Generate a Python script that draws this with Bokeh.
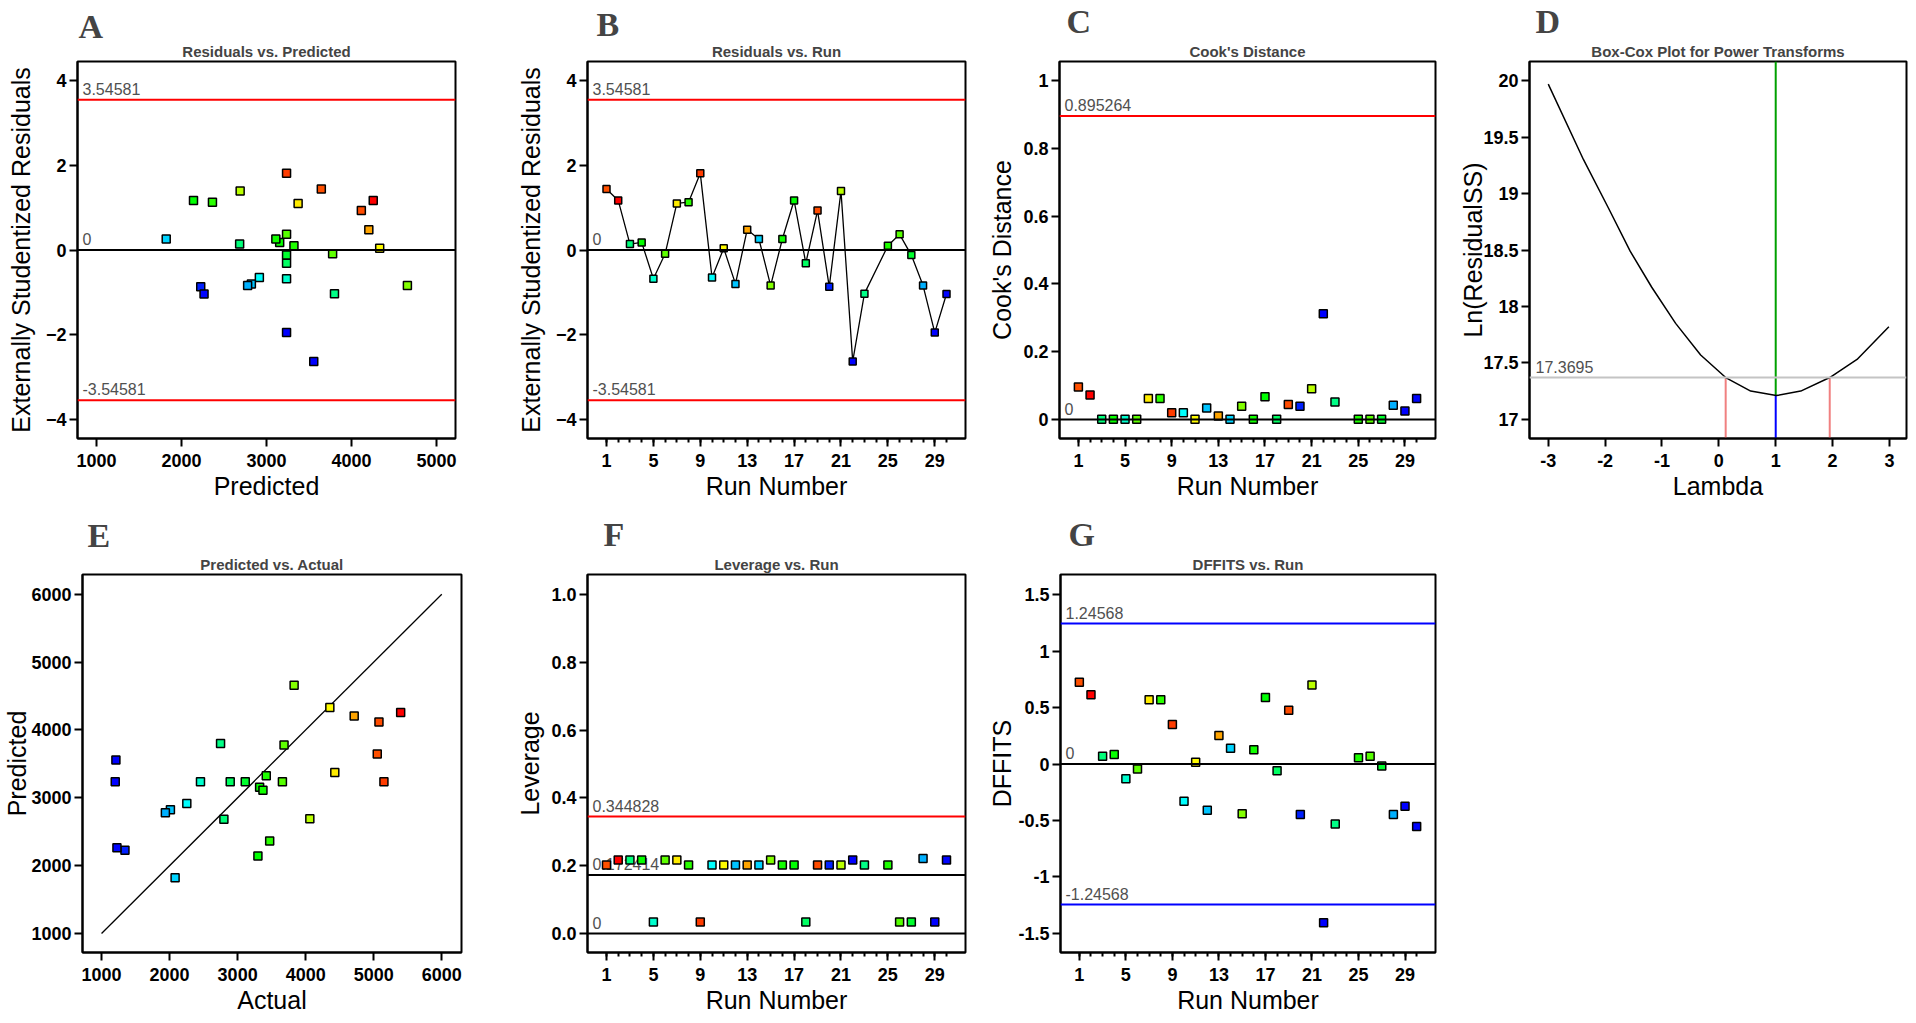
from bokeh.plotting import figure
from bokeh.models import (Range1d, FixedTicker, Label, Span, ColumnDataSource,
                          CustomJSTickFormatter, Title)
from bokeh.layouts import row, column
from bokeh.transform import linear_cmap
from bokeh.embed import file_html
from bokeh.resources import INLINE

# ---------------- data (run 24 not shown in the diagnostics) ----------------
runs = [1, 2, 3, 4, 5, 6, 7, 8, 9, 10, 11, 12, 13, 14, 15, 16, 17, 18, 19, 20,
        21, 22, 23, 25, 26, 27, 28, 29, 30]
actual = [5052, 5396, 2798, 3323, 2454, 3682, 4428, 3471, 5150, 2253, 4355, 2012,
          4713, 2081, 3830, 3372, 3298, 2891, 5077, 1344, 4061, 1211, 2749, 3421,
          3658, 3112, 1938, 1201, 1226]
predicted = [3645, 4256, 2684, 3155, 3236, 3778, 3372, 2364, 3236, 2916, 4332, 2822,
             4204, 1820, 4658, 3110, 2141, 3236, 4116, 2226, 2690, 3556, 3800, 3323,
             3236, 3236, 2778, 3236, 2265]
ext_resid = [1.44, 1.17, 0.14, 0.18, -0.68, -0.09, 1.10, 1.13, 1.81, -0.65, 0.04, -0.80,
             0.48, 0.26, -0.84, 0.26, 1.17, -0.31, 0.93, -0.87, 1.39, -2.63, -1.03, 0.10,
             0.37, -0.12, -0.84, -1.95, -1.04]
cooks_d = [0.096, 0.072, 0.001, 0.001, 0.001, 0.001, 0.062, 0.062, 0.020, 0.020, 0.001, 0.034,
           0.010, 0.001, 0.039, 0.001, 0.067, 0.001, 0.044, 0.039, 0.091, 0.312, 0.052, 0.001,
           0.001, 0.001, 0.042, 0.025, 0.062]
leverage = [0.202, 0.217, 0.217, 0.217, 0.034, 0.217, 0.217, 0.202, 0.034, 0.202, 0.202, 0.202,
            0.202, 0.202, 0.217, 0.202, 0.202, 0.034, 0.202, 0.202, 0.202, 0.217, 0.202, 0.202,
            0.034, 0.034, 0.221, 0.034, 0.217]
dffits = [0.726, 0.615, 0.070, 0.085, -0.130, -0.044, 0.570, 0.570, 0.350, -0.330, 0.015, -0.410,
          0.253, 0.141, -0.440, 0.126, 0.590, -0.059, 0.476, -0.447, 0.700, -1.406, -0.532, 0.056,
          0.070, -0.018, -0.447, -0.374, -0.553]

resid_limit = 3.54581
cooks_limit = 0.895264
lev_limit = 0.344828
lev_mean = 0.172414
dffits_limit = 1.24568

boxcox_lambda = [-3.0, -2.38, -1.94, -1.56, -1.18, -0.76, -0.32, 0.12, 0.56, 1.01, 1.44, 1.95, 2.43, 2.99]
boxcox_lnss = [19.97, 19.30, 18.87, 18.49, 18.17, 17.85, 17.57, 17.37, 17.25, 17.21, 17.25, 17.37, 17.53, 17.82]
boxcox_ci_level = 17.3695
boxcox_ci_lambda = [0.12, 1.95]
boxcox_best_lambda = 1.0
boxcox_min_lnss = 17.21

diag_line = [1000, 6000]

run_major_ticks = [1, 5, 9, 13, 17, 21, 25, 29]
run_minor_ticks = list(range(1, 31))
pred_ticks = [1000, 2000, 3000, 4000, 5000]
resid_ticks = [-4, -2, 0, 2, 4]
cooks_ticks = [0, 0.2, 0.4, 0.6, 0.8, 1]
lambda_ticks = [-3, -2, -1, 0, 1, 2, 3]
lnss_ticks = [17, 17.5, 18, 18.5, 19, 19.5, 20]
actual_ticks = [1000, 2000, 3000, 4000, 5000, 6000]
lev_ticks = [0.0, 0.2, 0.4, 0.6, 0.8, 1.0]
dffits_ticks = [-1.5, -1, -0.5, 0, 0.5, 1, 1.5]

# ---------------- style ----------------
FONT = "Liberation Sans"
anchors = [(0, 0, 255), (0, 255, 255), (0, 255, 0), (255, 255, 0), (255, 0, 0)]
palette = []
for i in range(256):
    t = i / 255 * 4
    k = min(int(t), 3)
    f = t - k
    c = [round(anchors[k][j] + (anchors[k + 1][j] - anchors[k][j]) * f) for j in range(3)]
    palette.append("#%02x%02x%02x" % tuple(c))

src = ColumnDataSource(dict(run=runs, actual=actual, predicted=predicted, resid=ext_resid,
                            cooks=cooks_d, lev=leverage, dffits=dffits))
cmap = linear_cmap("actual", palette, low=min(actual), high=max(actual))
plain = CustomJSTickFormatter(code="return tick.toString();")
one_dec = CustomJSTickFormatter(code="return tick.toFixed(1);")


def make_fig(w, h, bl, br, bt, bb, xr, yr, title, letter, loff, lstand):
    # figure title (outermost) carries the panel letter; the chart title sits next to the frame
    p = figure(width=w, height=h, x_range=Range1d(*xr), y_range=Range1d(*yr),
               output_backend="svg", toolbar_location=None, title=letter,
               min_border_left=bl, min_border_right=br, min_border_top=bt, min_border_bottom=bb)
    p.title.align = "left"
    p.title.offset = loff
    p.title.standoff = lstand
    p.title.text_font = "Liberation Serif"
    p.title.text_font_size = "34px"
    p.title.text_font_style = "bold"
    p.add_layout(Title(text=title, align="center", standoff=3, text_font=FONT,
                       text_font_size="15px", text_font_style="bold"), "above")
    p.grid.visible = False
    p.outline_line_color = "black"
    p.outline_line_width = 2
    p.outline_line_alpha = 1
    for ax in (p.xaxis[0], p.yaxis[0]):
        ax.axis_line_color = "black"
        ax.axis_line_width = 2
        ax.major_tick_line_color = "black"
        ax.major_tick_line_width = 2
        ax.major_tick_in = 0
        ax.major_tick_out = 8
        ax.minor_tick_line_color = None
        ax.major_label_text_font = FONT
        ax.major_label_text_font_size = "18px"
        ax.major_label_text_font_style = "bold"
        ax.major_label_text_color = "black"
        ax.axis_label_text_font = FONT
        ax.axis_label_text_font_size = "25px"
        ax.axis_label_text_font_style = "normal"
        ax.axis_label_text_color = "black"
    p.yaxis[0].major_label_standoff = 3
    p.xaxis[0].major_label_standoff = 7
    p.xaxis[0].axis_label_standoff = 2
    return p


def run_axis(p):
    ax = p.xaxis[0]
    ax.ticker = FixedTicker(ticks=run_major_ticks, minor_ticks=run_minor_ticks)
    ax.minor_tick_line_color = "black"
    ax.minor_tick_line_width = 2
    ax.minor_tick_in = 0
    ax.minor_tick_out = 4
    ax.axis_label = "Run Number"


def ref_line(p, xr, val, color, text):
    p.add_layout(Span(location=val, dimension="width", line_color=color, line_width=2))
    p.add_layout(Label(x=xr[0], y=val, x_offset=5, y_offset=5, text=text, level="underlay",
                       text_font=FONT, text_font_size="16px", text_color="#505050",
                       text_baseline="bottom"))


def squares(p, x, y, size=8):
    p.scatter(x, y, source=src, marker="square", size=size, line_color="black",
              line_width=1.5, fill_color=cmap)


RUN_XR = (-0.62, 31.62)
TOP_H, BOT_H = 513, 510

# ---- A ----
xrA, yrA = (776, 5224), (-4.45, 4.45)
pA = make_fig(510, TOP_H, 77, 55, 61, 75, xrA, yrA, "Residuals vs. Predicted", "A", 1, -11)
pA.xaxis[0].ticker = FixedTicker(ticks=pred_ticks)
pA.yaxis[0].ticker = FixedTicker(ticks=resid_ticks)
pA.xaxis[0].axis_label = "Predicted"
pA.yaxis[0].axis_label = "Externally Studentized Residuals"
pA.yaxis[0].axis_label_standoff = 8
ref_line(pA, xrA, resid_limit, "red", "3.54581")
ref_line(pA, xrA, -resid_limit, "red", "-3.54581")
ref_line(pA, xrA, 0, "black", "0")
squares(pA, "predicted", "resid")

# ---- B ----
xrB, yrB = RUN_XR, (-4.45, 4.45)
pB = make_fig(475, TOP_H, 77, 20, 61, 75, xrB, yrB, "Residuals vs. Run", "B", 9, -6)
run_axis(pB)
pB.yaxis[0].ticker = FixedTicker(ticks=resid_ticks)
pB.yaxis[0].axis_label = "Externally Studentized Residuals"
pB.yaxis[0].axis_label_standoff = 8
ref_line(pB, xrB, resid_limit, "red", "3.54581")
ref_line(pB, xrB, -resid_limit, "red", "-3.54581")
ref_line(pB, xrB, 0, "black", "0")
pB.line("run", "resid", source=src, line_color="black", line_width=1.3)
squares(pB, "run", "resid", size=7)

# ---- C ----
xrC, yrC = RUN_XR, (-0.056, 1.056)
pC = make_fig(455, TOP_H, 73, 5, 61, 75, xrC, yrC, "Cook's Distance", "C", 7, -1)
run_axis(pC)
pC.yaxis[0].ticker = FixedTicker(ticks=cooks_ticks)
pC.yaxis[0].formatter = plain
pC.yaxis[0].axis_label = "Cook's Distance"
pC.yaxis[0].axis_label_standoff = 4
ref_line(pC, xrC, cooks_limit, "red", "0.895264")
ref_line(pC, xrC, 0, "black", "0")
squares(pC, "run", "cooks")

# ---- D ----
xrD, yrD = (-3.33, 3.30), (16.83, 20.17)
pD = make_fig(474, TOP_H, 89, 8, 61, 75, xrD, yrD, "Box-Cox Plot for Power Transforms", "D", 6, 0)
pD.xaxis[0].ticker = FixedTicker(ticks=lambda_ticks)
pD.yaxis[0].ticker = FixedTicker(ticks=lnss_ticks)
pD.xaxis[0].formatter = plain
pD.yaxis[0].formatter = plain
pD.xaxis[0].axis_label = "Lambda"
pD.yaxis[0].axis_label = "Ln(ResidualSS)"
pD.yaxis[0].axis_label_standoff = -7
pD.add_layout(Span(location=boxcox_ci_level, dimension="width", line_color="#c4c4c4", line_width=2))
pD.add_layout(Label(x=xrD[0], y=boxcox_ci_level, x_offset=6, y_offset=5, text="17.3695",
                    text_font=FONT, text_font_size="16px", text_color="#505050",
                    text_baseline="bottom"))
pD.segment(x0=boxcox_ci_lambda, y0=[yrD[0]] * 2, x1=boxcox_ci_lambda, y1=[boxcox_ci_level] * 2,
           line_color="#f08080", line_width=2)
pD.segment(x0=[boxcox_best_lambda], y0=[boxcox_min_lnss], x1=[boxcox_best_lambda], y1=[yrD[1]],
           line_color="#00a000", line_width=2)
pD.segment(x0=[boxcox_best_lambda], y0=[yrD[0]], x1=[boxcox_best_lambda], y1=[boxcox_min_lnss],
           line_color="#0000ff", line_width=2)
pD.line(boxcox_lambda, boxcox_lnss, line_color="black", line_width=1.5)

# ---- E ----
xrE, yrE = (720, 6290), (720, 6290)
pE = make_fig(510, BOT_H, 82, 49, 60, 71, xrE, yrE, "Predicted vs. Actual", "E", 5, -2)
pE.xaxis[0].ticker = FixedTicker(ticks=actual_ticks)
pE.yaxis[0].ticker = FixedTicker(ticks=actual_ticks)
pE.xaxis[0].axis_label = "Actual"
pE.yaxis[0].axis_label = "Predicted"
pE.yaxis[0].axis_label_standoff = -3
pE.line(diag_line, diag_line, line_color="black", line_width=1.3)
squares(pE, "actual", "predicted")

# ---- F ----
xrF, yrF = RUN_XR, (-0.056, 1.059)
pF = make_fig(475, BOT_H, 77, 20, 60, 71, xrF, yrF, "Leverage vs. Run", "F", 16, 0)
run_axis(pF)
pF.yaxis[0].ticker = FixedTicker(ticks=lev_ticks)
pF.yaxis[0].formatter = one_dec
pF.yaxis[0].axis_label = "Leverage"
pF.yaxis[0].axis_label_standoff = 4
ref_line(pF, xrF, lev_limit, "red", "0.344828")
ref_line(pF, xrF, lev_mean, "black", "0.172414")
ref_line(pF, xrF, 0, "black", "0")
squares(pF, "run", "lev")

# ---- G ----
xrG, yrG = RUN_XR, (-1.67, 1.68)
pG = make_fig(455, BOT_H, 72, 5, 60, 71, xrG, yrG, "DFFITS vs. Run", "G", 8, 0)
run_axis(pG)
pG.yaxis[0].ticker = FixedTicker(ticks=dffits_ticks)
pG.yaxis[0].formatter = plain
pG.yaxis[0].axis_label = "DFFITS"
pG.yaxis[0].axis_label_standoff = -1
ref_line(pG, xrG, dffits_limit, "blue", "1.24568")
ref_line(pG, xrG, -dffits_limit, "blue", "-1.24568")
ref_line(pG, xrG, 0, "black", "0")
squares(pG, "run", "dffits")

layout = column(row(pA, pB, pC, pD, spacing=0), row(pE, pF, pG, spacing=0), spacing=0)
open("out.html", "w").write(file_html(layout, INLINE))
